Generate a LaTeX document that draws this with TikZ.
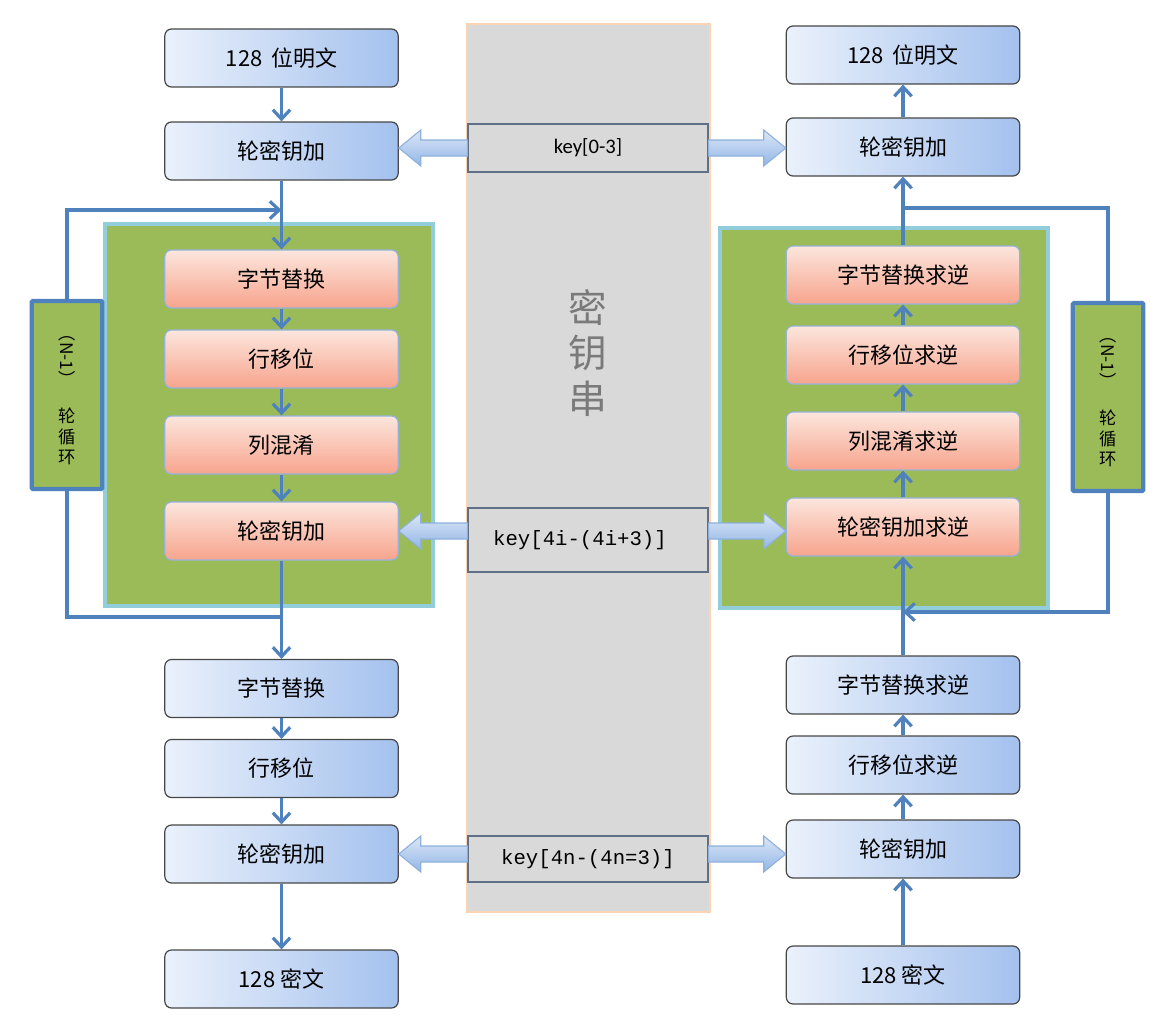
\documentclass[tikz,border=0pt]{standalone}
\usepackage{fontspec}
\setmainfont{Carlito}
\newfontfamily\cjk{Noto Sans CJK SC}
\newfontfamily\keymono{Liberation Mono}
\usetikzlibrary{arrows.meta,calc}
\definecolor{lineblue}{HTML}{4F81BD}
\definecolor{boxL}{HTML}{EAF1FB}
\definecolor{boxR}{HTML}{A4C1EE}
\definecolor{oraT}{HTML}{FCE6DD}
\definecolor{oraB}{HTML}{F7A48D}
\definecolor{oraborder}{HTML}{95B3D7}
\definecolor{grn}{HTML}{9BBB59}
\definecolor{grnborder}{HTML}{92CDDC}
\definecolor{keygray}{HTML}{D9D9D9}
\definecolor{keyborder}{HTML}{5F6F86}
\definecolor{stripborder}{HTML}{FBD4B4}
\definecolor{fatT}{HTML}{DCE7F6}
\definecolor{fatB}{HTML}{92B6E6}
\definecolor{fatborder}{HTML}{8DB0DC}
\begin{document}
\begin{tikzpicture}[x=0.75pt,y=-0.75pt,
  bluebox/.style={rounded corners=5pt, draw=black!72, line width=0.9pt,
    left color=boxL, right color=boxR, minimum width=175pt, minimum height=43.5pt,
    inner sep=0pt, font=\cjk\fontsize{16.5}{19}\selectfont},
  orabox/.style={rounded corners=5pt, draw=oraborder, line width=0.9pt,
    top color=oraT, bottom color=oraB, minimum width=175pt, minimum height=43.5pt,
    inner sep=0pt, font=\cjk\fontsize{16.5}{19}\selectfont},
  grnbox/.style={draw=grnborder, line width=3pt, fill=grn},
  loopbox/.style={draw=lineblue, line width=3.2pt, fill=grn, rounded corners=1pt,
    minimum width=53pt, minimum height=141pt, inner sep=0pt, align=center,
    font=\cjk\fontsize{13}{15.5}\selectfont},
  keybox/.style={draw=keyborder, line width=0.9pt, fill=keygray, minimum width=180pt,
    inner sep=0pt},
  flow/.style={draw=lineblue, line width=2.7pt},
  arr/.style={flow, -{Straight Barb[length=7pt,width=13pt,line width=2.4pt]}},
  fat/.style={draw=fatborder, line width=0.8pt, top color=fatT, bottom color=fatB}
]
\useasboundingbox (0,0) rectangle (1170,1024);

% key strip
\node[draw=stripborder, line width=1.6pt, fill=keygray, minimum width=182pt,
  minimum height=666pt, inner sep=0pt] (strip) at (588.5,468) {};
\node[font=\cjk\fontsize{29}{34}\selectfont, text=black!52, align=center] (stxt)
  at (588,353) {密\\钥\\串};

% green boxes
\node[grnbox, minimum width=246pt, minimum height=286.5pt, inner sep=0pt] (gl) at (269,415) {};
\node[grnbox, minimum width=246pt, minimum height=285pt, inner sep=0pt] (gr) at (884,418) {};

% left column
\node[bluebox] (p1) at (281.5,58) {128\, 位明文};
\node[bluebox] (k1) at (281.5,151) {轮密钥加};
\node[orabox] (s1) at (281.5,279) {字节替换};
\node[orabox] (r1) at (281.5,359) {行移位};
\node[orabox] (m1) at (281.5,445) {列混淆};
\node[orabox] (a1) at (281.5,531) {轮密钥加};
\node[bluebox] (s2) at (281.5,688.5) {字节替换};
\node[bluebox] (r2) at (281.5,768.5) {行移位};
\node[bluebox] (a2) at (281.5,854) {轮密钥加};
\node[bluebox] (c1) at (281.5,979) {128 密文};

% right column
\node[bluebox] (p2) at (903,55) {128\, 位明文};
\node[bluebox] (k2) at (903,147) {轮密钥加};
\node[orabox] (s3) at (903,275) {字节替换求逆};
\node[orabox] (r3) at (903,355) {行移位求逆};
\node[orabox] (m3) at (903,441) {列混淆求逆};
\node[orabox] (a3) at (903,527) {轮密钥加求逆};
\node[bluebox] (s4) at (903,685) {字节替换求逆};
\node[bluebox] (r4) at (903,765) {行移位求逆};
\node[bluebox] (a4) at (903,849) {轮密钥加};
\node[bluebox] (c2) at (903,975) {128 密文};

% loop boxes
\node[loopbox] (lb) at (67,395) {\rotatebox{-90}{（N-1）}\\[14pt]轮\\循\\环};
\node[loopbox] (rb) at (1108,397) {\rotatebox{-90}{（N-1）}\\[14pt]轮\\循\\环};

% key boxes
\node[keybox, minimum height=36pt, font=\fontsize{15.5}{18}\selectfont] (kA) at (588,148) {key[0-3]};
\node[keybox, minimum height=48pt, font=\keymono\fontsize{15.5}{17}\selectfont] (kB) at (588,540) {key[4i-(4i+3)]\hspace*{12pt}};
\node[keybox, minimum height=34.5pt, font=\keymono\fontsize{15.5}{17}\selectfont] (kC) at (588,859) {key[4n-(4n=3)]};

% left flow
\coordinate (lt) at (281.5,210);
\coordinate (lj) at (281.5,617);
\draw[arr] (p1) -- (k1);
\draw[arr] (k1) -- (s1);
\draw[arr] (s1) -- (r1);
\draw[arr] (r1) -- (m1);
\draw[arr] (m1) -- (a1);
\draw[arr] (a1) -- (s2);
\draw[arr] (s2) -- (r2);
\draw[arr] (r2) -- (a2);
\draw[arr] (a2) -- (c1);
\draw[arr] (lb.north) |- (lt);
\draw[flow] (lb.south) |- (lj);

% right flow
\coordinate (rt) at (903,208);
\coordinate (rj) at (903,612);
\draw[arr] (k2) -- (p2);
\draw[arr] (s3) -- (k2);
\draw[arr] (r3) -- (s3);
\draw[arr] (m3) -- (r3);
\draw[arr] (a3) -- (m3);
\draw[arr] (s4) -- (a3);
\draw[arr] (r4) -- (s4);
\draw[arr] (a4) -- (r4);
\draw[arr] (c2) -- (a4);
\draw[flow] (rb.north) |- (rt);
\draw[arr] (rb.south) |- (rj);

% fat arrows
\newcommand\fatL[2]{% #1 start, #2 tip (pointing left)
  \draw[fat] ($(#1)+(0,-8)$) -- ($(#2)+(22,-8)$) -- ($(#2)+(22,-18)$) -- (#2)
    -- ($(#2)+(22,18)$) -- ($(#2)+(22,8)$) -- ($(#1)+(0,8)$) -- cycle;}
\newcommand\fatR[2]{% #1 start, #2 tip (pointing right)
  \draw[fat] ($(#1)+(0,-8)$) -- ($(#2)+(-22,-8)$) -- ($(#2)+(-22,-18)$) -- (#2)
    -- ($(#2)+(-22,18)$) -- ($(#2)+(-22,8)$) -- ($(#1)+(0,8)$) -- cycle;}
\fatL{kA.west}{k1.east |- kA.west}
\fatR{kA.east}{k2.west |- kA.east}
\fatL{kB.west |- a1.east}{a1.east}
\fatR{kB.east |- a1.east}{a3.west |- a1.east}
\fatL{kC.west |- a2.east}{a2.east}
\fatR{kC.east |- a2.east}{a4.west |- a2.east}
\end{tikzpicture}
\end{document}
